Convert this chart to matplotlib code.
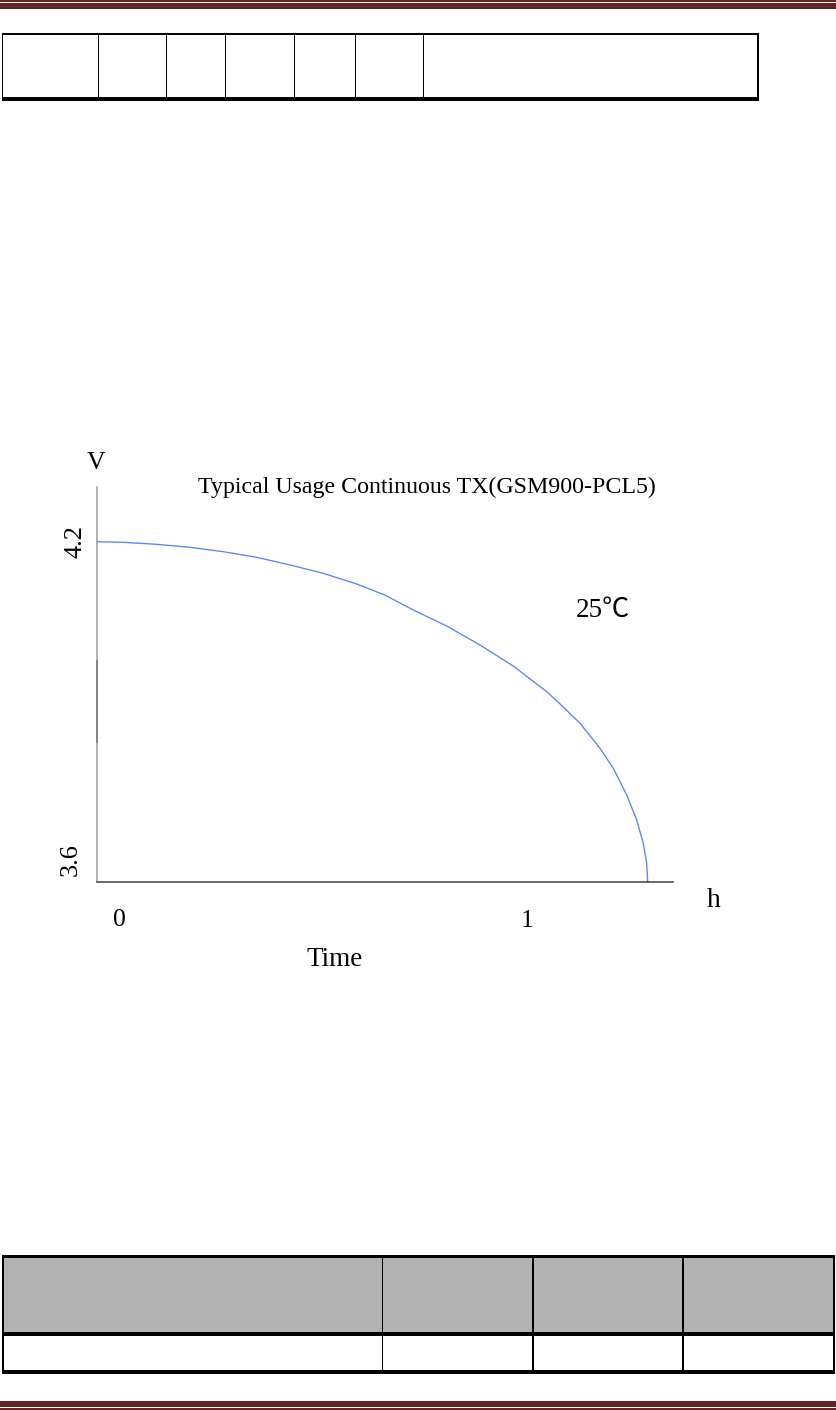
import matplotlib
matplotlib.use('Agg')
import matplotlib.pyplot as plt
from matplotlib.patches import Rectangle

W, H = 837, 1410
DPI = 100

# discharge curve (hours, volts)
time_h = [0.0000, 0.0619, 0.1395, 0.2170, 0.2944, 0.3721, 0.4495, 0.5270,
          0.6047, 0.6705, 0.7363, 0.8140, 0.8914, 0.9688, 1.0465, 1.0777,
          1.1240, 1.1705, 1.2014, 1.2326, 1.2558, 1.2712, 1.2791, 1.2814]
volts = [4.2000, 4.1989, 4.1954, 4.1901, 4.1824, 4.1725, 4.1590, 4.1443,
         4.1255, 4.1059, 4.0797, 4.0515, 4.0180, 3.9810, 3.9358, 3.9141,
         3.8801, 3.8361, 3.8008, 3.7538, 3.7098, 3.6687, 3.6335, 3.6000]

title = "Typical Usage Continuous TX(GSM900-PCL5)"
y_ticks = ["4.2", "3.6"]
x_ticks = ["0", "1"]
temp_label = "25\u2103"

DARK_RED = '#632423'
SERIF = ['Liberation Serif', 'Noto Sans CJK SC', 'DejaVu Serif']

fig = plt.figure(figsize=(W / DPI, H / DPI), dpi=DPI)

# page overlay in pixel coordinates (header, footer, empty tables)
page = fig.add_axes([0, 0, 1, 1])
page.set_xlim(0, W)
page.set_ylim(H, 0)
page.axis('off')

def hbar(y0, y1, x0, x1, color='black'):
    page.add_patch(Rectangle((x0, y0), x1 - x0, y1 - y0, color=color, lw=0))

def vline(x, y0, y1, w=1.0):
    page.add_patch(Rectangle((x - w / 2, y0), w, y1 - y0, color='black', lw=0))

# header and footer rules
hbar(0, 1.7, 0, W, DARK_RED)
hbar(3, 9, 0, W, DARK_RED)
hbar(1400.7, 1406.7, 0, W, DARK_RED)
hbar(1408, 1409.6, 0, W, DARK_RED)

# top table (one empty row)
top_cols = [2.7, 98.8, 166.6, 225.3, 294.7, 355.6, 423.4, 758]
for x in top_cols:
    vline(x, 33, 99, 1.2)
hbar(32.7, 34.7, 2.2, 758.6)
hbar(97.3, 101.3, 2.2, 758.6)

# bottom table (grey header row + one empty row)
bot_cols = [2.7, 382.3, 533, 683, 834]
hbar(1258.3, 1331.7, 2.7, 834, '#b2b2b2')
for i, x in enumerate(bot_cols):
    vline(x, 1256, 1372, 1.8 if i in (0, 2, 4) else 1.2)
hbar(1255, 1258.3, 2.2, 834.6)
hbar(1331.7, 1335.7, 2.2, 834.6)
hbar(1370, 1374, 2.2, 834.6)

# chart axes placed in the page
x0_px, x1_px = 96.7, 672.5
y0_px, y1_px = 882.3, 487
ax = fig.add_axes([x0_px / W, 1 - y0_px / H, (x1_px - x0_px) / W, (y0_px - y1_px) / H])
ax.patch.set_alpha(0)
ax.set_xlim(0, (x1_px - x0_px) / 430.0)
ax.set_ylim(3.6, 4.2 + (541.7 - y1_px) / 567.7)

ax.plot(time_h, volts, color='#5a82ff', lw=0.95, clip_on=False,
        solid_joinstyle='round')

ax.spines['top'].set_visible(False)
ax.spines['right'].set_visible(False)
ax.spines['left'].set_color('#9c9c9c')
ax.spines['left'].set_linewidth(1.1)
ax.spines['bottom'].set_color('#404040')
ax.spines['bottom'].set_linewidth(1.1)
# darker stretch on the voltage axis
ax.plot([0, 0], [3.847, 3.990], color='black', lw=1.1, clip_on=False)
ax.set_xticks([])
ax.set_yticks([])

# labels
page.text(96, 469, "V", fontsize=18.5, family=SERIF, ha='center', va='baseline')
page.text(427, 493, title, fontsize=17.2, family=SERIF, ha='center', va='baseline')
page.text(75.5, 541, y_ticks[0], fontsize=19, family=SERIF, rotation=90,
          ha='center', va='center')
page.text(71, 860, y_ticks[1], fontsize=19, family=SERIF, rotation=90,
          ha='center', va='center')
page.text(119, 926, x_ticks[0], fontsize=18.5, family=SERIF, ha='center', va='baseline')
page.text(527, 927, x_ticks[1], fontsize=18.5, family=SERIF, ha='center', va='baseline')
page.text(714, 907, "h", fontsize=20, family=SERIF, ha='center', va='baseline')
page.text(335, 966, "Time", fontsize=19.5, family=SERIF, ha='center', va='baseline')
page.text(603, 617, temp_label, fontsize=19.5, family=SERIF, ha='center', va='baseline')

fig.savefig('out.png', dpi=DPI)
